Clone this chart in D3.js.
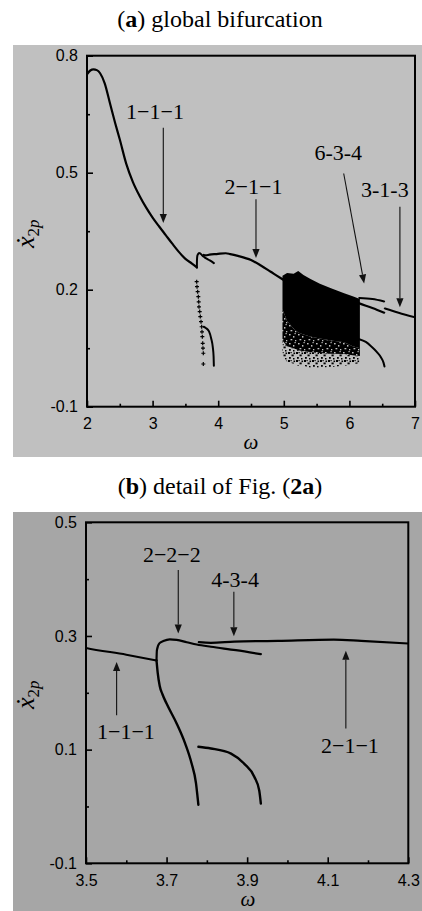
<!DOCTYPE html>
<html><head><meta charset="utf-8">
<script src="https://cdn.jsdelivr.net/npm/d3@7"></script>
<style>body{margin:0;background:#fff}svg{display:block}</style>
</head><body>
<svg id="c" width="422" height="911"></svg>
<script>
// ---------- data ----------
// 1-1-1 branch
const c111Omega = [2.0,2.05,2.1,2.15,2.2,2.27,2.35,2.43,2.5,2.6,2.7,2.8,2.9,3.0,3.1,3.2,3.3,3.4,3.5,3.6,3.675];
const c111Value = [0.752,0.762,0.765,0.763,0.755,0.729,0.678,0.627,0.585,0.522,0.476,0.441,0.411,0.385,0.362,0.340,0.318,0.297,0.279,0.267,0.257];
// 2-2-2 branch (upper)
const c222Omega = [3.675,3.676,3.682,3.692,3.708,3.725,3.75,3.775,3.81,3.872,3.934];
const c222Value = [0.257,0.275,0.287,0.291,0.294,0.293,0.289,0.285,0.281,0.275,0.268];
// 2-1-1 branch
const c211Omega = [3.78,3.81,3.868,3.976,4.115,4.183,4.3,4.5,4.65,4.8,4.95,5.0,5.2,5.4,5.6,5.8,6.0,6.15,6.35,6.53];
const c211Value = [0.289,0.288,0.29,0.2914,0.2935,0.2914,0.2867,0.276,0.262,0.246,0.23,0.225,0.214,0.203,0.193,0.184,0.175,0.165,0.153,0.141];
// 6-3-4 segment
const c634Omega = [6.15,6.35,6.53];
const c634Value = [0.179,0.176,0.170];
// 3-1-3 branch
const c313Omega = [6.54,6.75,7.0];
const c313Value = [0.152,0.141,0.129];
// descending companion branch (detail)
const descOmega = [3.675,3.678,3.683,3.69,3.70,3.725,3.746,3.762,3.773,3.777,3.779];
const descValue = [0.257,0.235,0.212,0.197,0.181,0.146,0.111,0.076,0.041,0.016,0.003];
// same branch, sparse sampled points in the global view
const descMarkOmega = [3.672,3.677,3.687,3.697,3.703,3.707,3.718,3.727,3.738,3.748,3.753,3.758,3.764,3.768,3.773,3.773];
const descMarkValue = [0.2205,0.2077,0.195,0.182,0.169,0.156,0.144,0.131,0.118,0.105,0.092,0.0795,0.0626,0.050,0.037,0.0095];
// lower arc near omega 3.8-3.93
const arcOmega = [3.779,3.81,3.86,3.893,3.918,3.93,3.934];
const arcValue = [0.105,0.102,0.093,0.075,0.052,0.028,0.005];
// lower arc after chaos
const arc2Omega = [6.15,6.25,6.33,6.42,6.48,6.52,6.535];
const arc2Value = [0.073,0.066,0.055,0.040,0.027,0.013,0.003];
// chaotic band envelopes
const chaosOmega = [4.98,5.05,5.15,5.22,5.3,5.4,5.55,5.72,5.92,6.05,6.16];
const chaosTop = [0.236,0.243,0.241,0.248,0.238,0.228,0.215,0.204,0.191,0.183,0.176];
const chaosDenseBottom = [0.15,0.12,0.1,0.09,0.085,0.08,0.075,0.07,0.065,0.055,0.05];
const chaosMidBottom = [0.07,0.055,0.05,0.045,0.042,0.04,0.038,0.036,0.035,0.032,0.03];
const chaosSparseBottom = [0.03,0.015,0.01,0.005,0.005,0.0,0.0,0.002,0.005,0.008,0.012];

// ticks
const aXTicks = [2,3,4,5,6,7];
const aXLabels = ["2","3","4","5","6","7"];
const aXMinor = [2.5,3.5,4.5,5.5,6.5];
const aYTicks = [-0.1,0.2,0.5,0.8];
const aYLabels = ["-0.1","0.2","0.5","0.8"];
const aYMinor = [0.05,0.35,0.65];
const bXTicks = [3.5,3.7,3.9,4.1,4.3];
const bXLabels = ["3.5","3.7","3.9","4.1","4.3"];
const bXMinor = [3.6,3.8,4.0,4.2];
const bYTicks = [-0.1,0.1,0.3,0.5];
const bYLabels = ["-0.1","0.1","0.3","0.5"];
const bYMinor = [0.0,0.2,0.4];

// annotations (data coordinates)
const annA = [
  {t:"1\u22121\u22121", lx:3.037, ly:0.638, ax:3.163, ay1:0.615, ax2:3.163, ay2:0.371},
  {t:"2\u22121\u22121", lx:4.538, ly:0.445, ax:4.576, ay1:0.432, ax2:4.576, ay2:0.281},
  {t:"6-3-4", lx:5.83, ly:0.533, ax:5.913, ay1:0.498, ax2:6.225, ay2:0.216},
  {t:"3-1-3", lx:6.54, ly:0.438, ax:6.77, ay1:0.413, ax2:6.77, ay2:0.155}
];
const annB = [
  {t:"2\u22122\u22122", lx:3.713, ly:0.4306, ax:3.729, ay1:0.416, ax2:3.729, ay2:0.3044},
  {t:"4-3-4", lx:3.87, ly:0.3865, ax:3.867, ay1:0.378, ax2:3.867, ay2:0.2996},
  {t:"2\u22121\u22121", lx:4.155, ly:0.0947, ax:4.145, ay1:0.137, ax2:4.145, ay2:0.2738},
  {t:"1\u22121\u22121", lx:3.599, ly:0.118, ax:3.576, ay1:0.1605, ax2:3.576, ay2:0.2544}
];

// ---------- drawing ----------
const svg = d3.select("#c");
const SERIF = "'Liberation Serif','Times New Roman',serif";
const SANS = "'Liberation Sans',Arial,sans-serif";
const BG_A = "#c0c0c0", BG_B = "#a6a6a6";

const defs = svg.append("defs");
// dense speckle: black with holes
const p1 = defs.append("pattern").attr("id","speck1").attr("patternUnits","userSpaceOnUse").attr("width",9).attr("height",9);
p1.append("rect").attr("width",9).attr("height",9).attr("fill","#000");
[[1,1,1.6,1.4],[5,3,1.4,1.6],[2.5,6,1.8,1.3],[7,7,1.3,1.3],[6.5,0,1.2,1.2]].forEach(r=>
  p1.append("rect").attr("x",r[0]).attr("y",r[1]).attr("width",r[2]).attr("height",r[3]).attr("fill",BG_A));
// sparse speckle: bg with black dots
const p2 = defs.append("pattern").attr("id","speck2").attr("patternUnits","userSpaceOnUse").attr("width",8).attr("height",8);
[[0,0,2,2],[3.5,2.5,2.2,1.8],[5.5,0.5,1.6,1.6],[1,5,1.8,1.8],[5,6,1.5,1.5],[2.5,0,1.2,1.2]].forEach(r=>
  p2.append("rect").attr("x",r[0]).attr("y",r[1]).attr("width",r[2]).attr("height",r[3]).attr("fill","#000"));

svg.append("rect").attr("x",13).attr("y",45).attr("width",409).attr("height",412).attr("fill",BG_A);
svg.append("rect").attr("x",13).attr("y",512).attr("width",409).attr("height",399).attr("fill",BG_B);

function title(y, parts){
  const t = svg.append("text").attr("x",220).attr("y",y).attr("text-anchor","middle")
    .attr("font-family",SERIF).attr("font-size",24).attr("fill","#000");
  parts.forEach(p=>t.append("tspan").attr("font-weight",p[1]?"bold":"normal").text(p[0]));
}
title(27,[["(",0],["a",1],[") global bifurcation",0]]);
title(494,[["(",0],["b",1],[") detail of Fig. (",0],["2a",1],[")",0]]);

function panel(o){
  const x = d3.scaleLinear().domain(o.xd).range(o.xr);
  const y = d3.scaleLinear().domain(o.yd).range(o.yr);
  const g = svg.append("g");
  const cid = "clip"+o.id;
  defs.append("clipPath").attr("id",cid).append("rect")
    .attr("x",o.xr[0]).attr("y",o.yr[1]).attr("width",o.xr[1]-o.xr[0]).attr("height",o.yr[0]-o.yr[1]);

  function ax(gen, vals, labels, size, pad){
    const a = g.append("g").call(gen.tickValues(vals).tickSize(size).tickPadding(pad)
      .tickFormat(labels ? ((d,i)=>labels[i]) : ""));
    a.select(".domain").remove();
    a.selectAll("line").attr("stroke","#000").attr("stroke-width",1.6);
    a.selectAll("text").attr("font-family",SANS).attr("font-size",16).attr("fill","#000");
    return a;
  }
  ax(d3.axisBottom(x), o.xt, o.xl, -6, 11).attr("transform",`translate(0,${o.yr[0]})`);
  ax(d3.axisBottom(x), o.xm, null, -3, 0).attr("transform",`translate(0,${o.yr[0]})`);
  ax(d3.axisLeft(y), o.yt, o.yl, -6, 9).attr("transform",`translate(${o.xr[0]},0)`);
  ax(d3.axisLeft(y), o.ym, null, -3, 0).attr("transform",`translate(${o.xr[0]},0)`);

  g.append("rect").attr("x",o.xr[0]).attr("y",o.yr[1]).attr("width",o.xr[1]-o.xr[0])
    .attr("height",o.yr[0]-o.yr[1]).attr("fill","none").attr("stroke","#000").attr("stroke-width",2);

  const data = g.append("g").attr("clip-path",`url(#${cid})`);
  const line = d3.line().x(d=>x(d[0])).y(d=>y(d[1])).curve(d3.curveMonotoneX);
  const zip = (a,b)=>a.map((v,i)=>[v,b[i]]);
  return {x,y,g,data,line,zip};
}

function drawCurve(p, om, va, w){
  p.data.append("path").attr("d",p.line(p.zip(om,va))).attr("fill","none")
    .attr("stroke","#000").attr("stroke-width",w||2).attr("stroke-linecap","round");
}

function annotate(p, list){
  list.forEach(a=>{
    p.g.append("text").attr("x",p.x(a.lx)).attr("y",p.y(a.ly)).attr("text-anchor","middle")
      .attr("font-family",SERIF).attr("font-size",22).attr("fill","#000").text(a.t);
    const x1=p.x(a.ax), y1=p.y(a.ay1), x2=p.x(a.ax2), y2=p.y(a.ay2);
    const ang = Math.atan2(y2-y1, x2-x1), L=9, W=3.6;
    const bxp = x2-L*Math.cos(ang), byp = y2-L*Math.sin(ang);
    p.g.append("line").attr("x1",x1).attr("y1",y1).attr("x2",bxp).attr("y2",byp)
      .attr("stroke","#111").attr("stroke-width",1.1);
    const px = -Math.sin(ang)*W, py = Math.cos(ang)*W;
    p.g.append("path").attr("d",`M${x2},${y2}L${bxp+px},${byp+py}L${bxp-px},${byp-py}Z`).attr("fill","#111");
  });
}

function ylabel(xb, yb){
  const t = svg.append("text").attr("transform",`translate(${xb},${yb}) rotate(-90)`)
    .attr("font-family",SERIF).attr("fill","#000");
  t.append("tspan").attr("font-size",26).attr("font-style","italic").text("\u1E8B");
  t.append("tspan").attr("font-size",17).attr("dy",5).text("2");
  t.append("tspan").attr("font-size",17).attr("font-style","italic").text("p");
}
function xlabel(xc, yb){
  svg.append("text").attr("x",xc).attr("y",yb).attr("text-anchor","middle")
    .attr("font-family",SERIF).attr("font-size",21).attr("font-style","italic").attr("fill","#000").text("\u03C9");
}

// ---- panel a ----
const A = panel({id:"a", xd:[2,7], xr:[87,415], yd:[-0.1,0.8], yr:[406.7,55.7],
  xt:aXTicks, xl:aXLabels, xm:aXMinor, yt:aYTicks, yl:aYLabels, ym:aYMinor});
const band = (lo, hi) => d3.area().x((d,i)=>A.x(chaosOmega[i])).y0((d,i)=>A.y(lo[i])).y1((d,i)=>A.y(hi[i]))(chaosOmega);
A.data.append("path").attr("d",band(chaosSparseBottom, chaosMidBottom)).attr("fill","url(#speck2)");
A.data.append("path").attr("d",band(chaosMidBottom, chaosDenseBottom)).attr("fill","url(#speck1)");
A.data.append("path").attr("d",band(chaosDenseBottom, chaosTop)).attr("fill","#000");
drawCurve(A,c111Omega,c111Value,2.2);
drawCurve(A,c222Omega,c222Value,2);
drawCurve(A,c211Omega,c211Value,2.2);
drawCurve(A,c634Omega,c634Value,2);
drawCurve(A,c313Omega,c313Value,2);
drawCurve(A,arcOmega,arcValue,2);
drawCurve(A,arc2Omega,arc2Value,2);
A.data.selectAll("path.mk").data(A.zip(descMarkOmega,descMarkValue)).join("path").attr("class","mk")
  .attr("d",d=>{const cx=A.x(d[0]), cy=A.y(d[1]); return `M${cx-2},${cy}H${cx+2}M${cx},${cy-2}V${cy+2}`;})
  .attr("stroke","#000").attr("stroke-width",1.2);
annotate(A, annA);
ylabel(34, 248);
xlabel(251, 449);

// ---- panel b ----
const B = panel({id:"b", xd:[3.5,4.3], xr:[86,408.3], yd:[-0.1,0.5], yr:[863.3,522.3],
  xt:bXTicks, xl:bXLabels, xm:bXMinor, yt:bYTicks, yl:bYLabels, ym:bYMinor});
drawCurve(B,c111Omega,c111Value,2);
drawCurve(B,c222Omega,c222Value,2.2);
drawCurve(B,c211Omega,c211Value,2.2);
drawCurve(B,descOmega,descValue,2.4);
drawCurve(B,arcOmega,arcValue,2.4);
annotate(B, annB);
ylabel(34, 709);
xlabel(248, 906);
</script>
</body></html>
